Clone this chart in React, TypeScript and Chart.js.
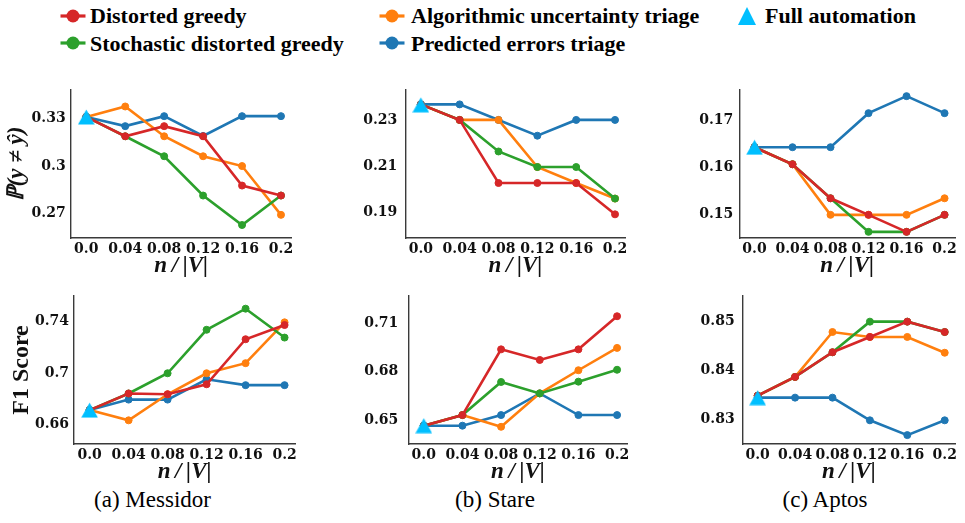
import React, { useEffect, useRef } from 'react';
import { Chart, registerables } from 'chart.js';
Chart.register(...registerables);

// ---------- data ----------
const xValues = [0, 0.04, 0.08, 0.12, 0.16, 0.2];
const xTickLabels = ['0.0', '0.04', '0.08', '0.12', '0.16', '0.2'];

const seriesNames = [
  'Distorted greedy',
  'Stochastic distorted greedy',
  'Algorithmic uncertainty triage',
  'Predicted errors triage',
  'Full automation',
];
const datasetNames = ['(a) Messidor', '(b) Stare', '(c) Aptos'];

// Misclassification probability P(y != y_hat)
const messidorErrDG = [0.331, 0.3188, 0.3252, 0.3188, 0.2877, 0.2814];
const messidorErrSDG = [0.331, 0.3188, 0.3062, 0.2814, 0.2628, 0.2814];
const messidorErrAUT = [0.331, 0.3376, 0.3188, 0.3062, 0.3, 0.2692];
const messidorErrPET = [0.331, 0.3252, 0.3315, 0.319, 0.3315, 0.3315];
const messidorErrFull = 0.331;

const stareErrDG = [0.2367, 0.23, 0.2028, 0.2028, 0.2028, 0.1893];
const stareErrSDG = [0.2367, 0.23, 0.2164, 0.2097, 0.2097, 0.1961];
const stareErrAUT = [0.2367, 0.23, 0.23, 0.2097, 0.2028, 0.1961];
const stareErrPET = [0.2367, 0.2367, 0.23, 0.2232, 0.23, 0.23];
const stareErrFull = 0.2365;

const aptosErrDG = [0.1643, 0.1607, 0.1535, 0.15, 0.1464, 0.15];
const aptosErrSDG = [0.1643, 0.1607, 0.1535, 0.1464, 0.1464, 0.15];
const aptosErrAUT = [0.1643, 0.1607, 0.15, 0.15, 0.15, 0.1535];
const aptosErrPET = [0.1643, 0.1643, 0.1643, 0.1715, 0.1751, 0.1715];
const aptosErrFull = 0.1643;

// F1 score
const messidorF1DG = [0.6709, 0.6839, 0.6833, 0.6911, 0.7263, 0.7374];
const messidorF1SDG = [0.6709, 0.6839, 0.6997, 0.7337, 0.7502, 0.7276];
const messidorF1AUT = [0.6709, 0.6629, 0.6833, 0.6997, 0.7076, 0.7395];
const messidorF1PET = [0.6709, 0.6791, 0.6791, 0.695, 0.6904, 0.6904];
const messidorF1Full = 0.6709;

const stareF1DG = [0.6465, 0.6531, 0.694, 0.6874, 0.694, 0.7146];
const stareF1SDG = [0.6465, 0.6531, 0.6737, 0.6666, 0.6739, 0.6813];
const stareF1AUT = [0.6465, 0.6531, 0.6458, 0.6666, 0.681, 0.6949];
const stareF1PET = [0.6465, 0.6465, 0.6531, 0.6666, 0.6531, 0.6531];
const stareF1Full = 0.6465;

const aptosF1DG = [0.8349, 0.8387, 0.8437, 0.8468, 0.8499, 0.8478];
const aptosF1SDG = [0.8349, 0.8387, 0.8437, 0.8499, 0.8499, 0.8478];
const aptosF1AUT = [0.8349, 0.8387, 0.8478, 0.8468, 0.8468, 0.8436];
const aptosF1PET = [0.8345, 0.8345, 0.8345, 0.8299, 0.8269, 0.8299];
const aptosF1Full = 0.8345;

// y tick values / labels
const messidorErrTicks = [0.27, 0.3, 0.33];
const messidorErrTickLabels = ['0.27', '0.3', '0.33'];
const stareErrTicks = [0.19, 0.21, 0.23];
const stareErrTickLabels = ['0.19', '0.21', '0.23'];
const aptosErrTicks = [0.15, 0.16, 0.17];
const aptosErrTickLabels = ['0.15', '0.16', '0.17'];
const messidorF1Ticks = [0.66, 0.7, 0.74];
const messidorF1TickLabels = ['0.66', '0.7', '0.74'];
const stareF1Ticks = [0.65, 0.68, 0.71];
const stareF1TickLabels = ['0.65', '0.68', '0.71'];
const aptosF1Ticks = [0.83, 0.84, 0.85];
const aptosF1TickLabels = ['0.83', '0.84', '0.85'];

// ---------- styles ----------
const COLORS = ['#d62728', '#2ca02c', '#ff7f0e', '#1f77b4'];
const TRI_COLOR = '#00bfff';
const AXIS_COLOR = '#3a3a3a';
const TEXT_COLOR = '#111111';
const SERIF = "'Liberation Serif', 'DejaVu Serif', serif";
const TICK_FONT = { family: "'DejaVu Serif', serif", size: 14, weight: 'bold' as const };
const X_TITLE = 'n\u2009/\u2009|V|';

function makeTriangle(): HTMLCanvasElement {
  const c = document.createElement('canvas');
  c.width = 17;
  c.height = 16;
  const ctx = c.getContext('2d')!;
  ctx.fillStyle = TRI_COLOR;
  ctx.beginPath();
  ctx.moveTo(8.5, 0.5);
  ctx.lineTo(16.8, 15.6);
  ctx.lineTo(0.2, 15.6);
  ctx.closePath();
  ctx.fill();
  return c;
}

type PanelCfg = {
  left: number; top: number; width: number; height: number;
  yW: number; padRight: number; yPad: number;
  series: number[][]; full: number;
  yMin: number; yMax: number; yTicks: number[]; yTickLabels: string[];
  yTitle?: string; yTitleItalic?: boolean; yTitleSize?: number; yTitlePad?: number;
};

const panels: PanelCfg[] = [
  { left: 0, top: 80, width: 304, height: 200, yW: 70.7, padRight: 12.3, yPad: 5,
    series: [messidorErrDG, messidorErrSDG, messidorErrAUT, messidorErrPET], full: messidorErrFull,
    yMin: 0.2546, yMax: 0.348, yTicks: messidorErrTicks, yTickLabels: messidorErrTickLabels,
    yTitle: 'ℙ(y ≠ ŷ)', yTitleItalic: true, yTitleSize: 23, yTitlePad: 3 },
  { left: 350, top: 80, width: 288, height: 200, yW: 55.3, padRight: 12.3, yPad: 8,
    series: [stareErrDG, stareErrSDG, stareErrAUT, stareErrPET], full: stareErrFull,
    yMin: 0.1791, yMax: 0.2429, yTicks: stareErrTicks, yTickLabels: stareErrTickLabels },
  { left: 684, top: 80, width: 281, height: 200, yW: 55.3, padRight: 5.7, yPad: 6,
    series: [aptosErrDG, aptosErrSDG, aptosErrAUT, aptosErrPET], full: aptosErrFull,
    yMin: 0.1451, yMax: 0.1764, yTicks: aptosErrTicks, yTickLabels: aptosErrTickLabels },
  { left: 0, top: 286, width: 307, height: 200, yW: 74, padRight: 11.7, yPad: 5,
    series: [messidorF1DG, messidorF1SDG, messidorF1AUT, messidorF1PET], full: messidorF1Full,
    yMin: 0.6444, yMax: 0.7601, yTicks: messidorF1Ticks, yTickLabels: messidorF1TickLabels,
    yTitle: 'F1 Score', yTitleItalic: false, yTitleSize: 24, yTitlePad: 7 },
  { left: 353, top: 286, width: 287, height: 200, yW: 55.3, padRight: 12.3, yPad: 10,
    series: [stareF1DG, stareF1SDG, stareF1AUT, stareF1PET], full: stareF1Full,
    yMin: 0.6351, yMax: 0.7272, yTicks: stareF1Ticks, yTickLabels: stareF1TickLabels },
  { left: 688, top: 286, width: 277, height: 200, yW: 54.7, padRight: 2.3, yPad: 8,
    series: [aptosF1DG, aptosF1SDG, aptosF1AUT, aptosF1PET], full: aptosF1Full,
    yMin: 0.8251, yMax: 0.8551, yTicks: aptosF1Ticks, yTickLabels: aptosF1TickLabels },
];

function Panel({ cfg }: { cfg: PanelCfg }) {
  const ref = useRef<HTMLCanvasElement>(null);
  useEffect(() => {
    const tri = makeTriangle();
    const lineSets = cfg.series.map((ys, si) => ({
      label: seriesNames[si],
      data: xValues.map((x, i) => ({ x, y: ys[i] })),
      borderColor: COLORS[si],
      backgroundColor: COLORS[si],
      pointBackgroundColor: COLORS[si],
      pointBorderColor: COLORS[si],
      borderWidth: 2.6,
      pointRadius: 3.5,
      pointBorderWidth: 1,
      tension: 0,
      clip: false as any,
      order: si + 1,
    }));
    const triSet = {
      label: seriesNames[4],
      data: [{ x: xValues[0], y: cfg.full }],
      pointStyle: tri as any,
      showLine: false,
      borderColor: TRI_COLOR,
      backgroundColor: TRI_COLOR,
      pointRadius: 9,
      clip: false as any,
      order: 0,
    };
    const chart = new Chart(ref.current!, {
      type: 'line',
      data: { datasets: [triSet, ...lineSets] as any },
      options: {
        animation: false,
        responsive: false,
        maintainAspectRatio: false,
        events: [],
        layout: { padding: { top: 10, right: cfg.padRight, left: 0, bottom: 0 } },
        plugins: { legend: { display: false }, tooltip: { enabled: false } },
        scales: {
          x: {
            type: 'linear',
            min: -0.016,
            max: 0.211,
            grid: { display: false, drawTicks: false },
            border: { display: true, color: AXIS_COLOR, width: 1.4 },
            afterBuildTicks: (s: any) => { s.ticks = xValues.map((v) => ({ value: v })); },
            afterFit: (s: any) => { s.height = 42; s.paddingLeft = 0; s.paddingRight = 0; },
            ticks: {
              padding: 3, color: TEXT_COLOR, font: TICK_FONT, maxRotation: 0, minRotation: 0,
              autoSkip: false, callback: (_v: any, i: number) => xTickLabels[i],
            },
            title: {
              display: true, text: X_TITLE, color: TEXT_COLOR,
              font: { family: SERIF, size: 23, weight: 'bold', style: 'italic' },
              padding: { top: 0, bottom: 0 },
            },
          },
          y: {
            type: 'linear',
            min: cfg.yMin,
            max: cfg.yMax,
            grid: { display: false, drawTicks: false },
            border: { display: true, color: AXIS_COLOR, width: 1.4 },
            afterBuildTicks: (s: any) => { s.ticks = cfg.yTicks.map((v) => ({ value: v })); },
            afterFit: (s: any) => { s.width = cfg.yW; s.paddingTop = 0; s.paddingBottom = 0; },
            ticks: {
              padding: cfg.yPad, color: TEXT_COLOR, font: TICK_FONT,
              callback: (_v: any, i: number) => cfg.yTickLabels[i],
            },
            title: {
              display: !!cfg.yTitle, text: cfg.yTitle || '', color: TEXT_COLOR,
              font: { family: SERIF, size: cfg.yTitleSize || 20, weight: 'bold', style: cfg.yTitleItalic ? 'italic' : 'normal' },
              padding: { top: cfg.yTitlePad || 0, bottom: 0 },
            },
          },
        },
      } as any,
    });
    return () => chart.destroy();
  }, []);
  return (
    <canvas
      ref={ref}
      width={cfg.width}
      height={cfg.height}
      style={{ position: 'absolute', left: cfg.left, top: cfg.top, width: cfg.width, height: cfg.height }}
    />
  );
}

function LegendMarker({ cx, cy, color }: { cx: number; cy: number; color: string }) {
  return (
    <svg style={{ position: 'absolute', left: cx - 14, top: cy - 8 }} width={28} height={16}>
      <line x1={1.5} y1={8} x2={26.5} y2={8} stroke={color} strokeWidth={3.2} />
      <circle cx={14} cy={8} r={6.5} fill={color} />
    </svg>
  );
}

const legendTextStyle: React.CSSProperties = {
  position: 'absolute',
  fontFamily: SERIF,
  fontWeight: 'bold',
  fontSize: 22,
  lineHeight: '26px',
  whiteSpace: 'nowrap',
  color: '#000',
};

const captionCenters = [152.5, 495, 825];

export default function App() {
  return (
    <div style={{ position: 'absolute', left: 0, top: 0, width: 965, height: 523, overflow: 'hidden', background: '#fff' }}>
      {/* legend */}
      <LegendMarker cx={72.5} cy={16} color={COLORS[0]} />
      <span style={{ ...legendTextStyle, left: 90, top: 3 }}>{seriesNames[0]}</span>
      <LegendMarker cx={392} cy={16} color={COLORS[2]} />
      <span style={{ ...legendTextStyle, left: 411, top: 3 }}>{seriesNames[2]}</span>
      <svg style={{ position: 'absolute', left: 737, top: 6 }} width={20} height={20}>
        <polygon points="10,1 19,19 1,19" fill={TRI_COLOR} />
      </svg>
      <span style={{ ...legendTextStyle, left: 765, top: 3 }}>{seriesNames[4]}</span>
      <LegendMarker cx={72.5} cy={43} color={COLORS[1]} />
      <span style={{ ...legendTextStyle, left: 90, top: 31 }}>{seriesNames[1]}</span>
      <LegendMarker cx={392} cy={43} color={COLORS[3]} />
      <span style={{ ...legendTextStyle, left: 411, top: 31 }}>{seriesNames[3]}</span>

      {panels.map((p, i) => <Panel key={i} cfg={p} />)}

      {datasetNames.map((name, i) => (
        <div
          key={name}
          style={{
            position: 'absolute', left: captionCenters[i] - 100, width: 200, top: 486,
            textAlign: 'center', fontFamily: SERIF, fontSize: 23, lineHeight: '28px', color: '#000',
          }}
        >
          {name}
        </div>
      ))}
    </div>
  );
}
